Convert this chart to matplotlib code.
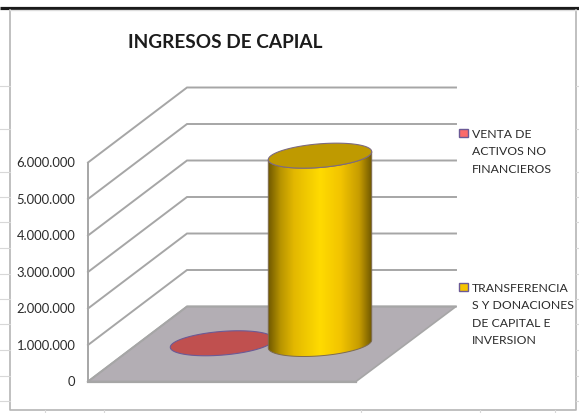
import numpy as np
import matplotlib
matplotlib.use('Agg')
import matplotlib.pyplot as plt
from matplotlib.colors import LinearSegmentedColormap
from matplotlib.patches import Polygon, Rectangle

plt.rcParams['font.family'] = ['Lato', 'DejaVu Sans']

TITLE = "INGRESOS DE CAPIAL"
series_names = [
    ["VENTA DE", "ACTIVOS NO", "FINANCIEROS"],
    ["TRANSFERENCIA", "S Y DONACIONES", "DE CAPITAL E", "INVERSION"],
]
series_values = [20000, 5160000]
tick_values = [0, 1000000, 2000000, 3000000, 4000000, 5000000, 6000000]
tick_labels = ["0", "1.000.000", "2.000.000", "3.000.000", "4.000.000", "5.000.000", "6.000.000"]

W, H = 579, 414
PX_PER_UNIT = 36.5 / 1e6   # one million is 36.5 px tall
Y0_PX = 381


def vpx(n):
    # a height in pixels, as value units
    return n / PX_PER_UNIT


def ypx(p):
    # pixel row from the top of the image, as a value
    return (Y0_PX - p) / PX_PER_UNIT


def set_limits():
    # a bit lower, rendering lands high otherwise
    ax.set_xlim(0, W)
    ax.set_ylim(ypx(H - 1.5), ypx(-1.5))


fig = plt.figure(figsize=(W / 100, H / 100), dpi=100)
ax = fig.add_axes([0, 0, 1, 1])
set_limits()
ax.axis('off')

# sheet and chart frame
ax.plot([0, W], [ypx(7)] * 2, color='#1a1a1a', lw=2.3, solid_capstyle='butt')
ax.plot([10, 10, 576, 576], [ypx(9), ypx(409), ypx(409), ypx(9)], color='#b5b5b5', lw=1.2)
ax.plot([10, 576], [ypx(9)] * 2, color='#dddddd', lw=1)
for p in [85, 128, 171, 196, 221, 247, 273, 298, 323, 349, 375, 400]:
    ax.plot([0, 10], [ypx(p)] * 2, color='#d8d8d8', lw=0.8)
    ax.plot([576, W], [ypx(p)] * 2, color='#d8d8d8', lw=0.8)
for x in [45, 104, 361, 480, 555]:
    ax.plot([x, x], [ypx(409), ypx(414)], color='#d8d8d8', lw=0.8)

# walls and floor
LEFT, RIGHT = 88, 356
DX, DY = 99, vpx(75)
GRID = '#a6a6a6'
ax.add_patch(Polygon([(LEFT, 0), (RIGHT, 0), (RIGHT + DX + 1, DY), (LEFT + DX, DY)],
                     closed=True, fc='#b3aeb4', ec=GRID, lw=1.2, zorder=1))
for v in tick_values:
    ax.plot([LEFT, LEFT + DX, RIGHT + DX + 1], [v, v + DY, v + DY],
            color=GRID, lw=1.4, zorder=1.5, solid_joinstyle='miter')
ax.plot([LEFT, LEFT], [0, tick_values[-1]], color=GRID, lw=1.4, zorder=1.5)
ax.plot([LEFT, RIGHT], [0, 0], color=GRID, lw=1.6, zorder=1.6)

for v, lab in zip(tick_values, tick_labels):
    ax.text(75.5, v, lab, ha='right', va='center', fontsize=9.4, color='#2b2b2b')

ax.text(225, ypx(41), TITLE, ha='center', va='center', fontsize=13.7,
        fontweight='bold', color='#1c1c1c')

# cylinders
RX, RD_X, RD_Y = 49, 16.5, vpx(12.5)
BASE = vpx(37.5)
T0 = np.arctan2(RD_X, RX)
centers = [222, 320]


def ring(cx, level, t):
    return np.column_stack([cx + RX * np.cos(t) + RD_X * np.sin(t), level + RD_Y * np.sin(t)])


ALL_T = np.linspace(0, 2 * np.pi, 121)
FRONT_T = np.linspace(T0 + np.pi, T0 + 2 * np.pi, 61)

# first series is so small that it is only a disc on the floor
ax.add_patch(Polygon(ring(centers[0], BASE + series_values[0], ALL_T), closed=True,
                     fc='#c0504f', ec='#6b5a96', lw=0.8, zorder=2))

cx = centers[1]
top = BASE + series_values[1]
body = np.vstack([ring(cx, BASE, FRONT_T), ring(cx, top, FRONT_T)[::-1]])
body_patch = Polygon(body, closed=True, fc='none', ec='#7d6b50', lw=0.7, zorder=3.1)
ax.add_patch(body_patch)
cmap = LinearSegmentedColormap.from_list('cyl', [
    (0.0, '#6f5800'), (0.12, '#b89400'), (0.25, '#e3b800'), (0.5, '#ffdb00'),
    (0.7, '#f2c400'), (0.88, '#c69c00'), (1.0, '#6f5800')])
grad = ax.imshow(np.linspace(0, 1, 256).reshape(1, -1), cmap=cmap, aspect='auto', zorder=3,
                 extent=[cx - 52, cx + 52, BASE - vpx(15), top + vpx(15)])
grad.set_clip_path(body_patch)
set_limits()
ax.add_patch(Polygon(ring(cx, top, ALL_T), closed=True, fc='#bf9a00', ec='#7d6b80', lw=0.8, zorder=4))

# legend
SWATCH = ['#fb6a6a', '#f5c400']
legend_rows = [[133, 150.5, 168], [287, 304.5, 322, 339.5]]
for names, rows, col in zip(series_names, legend_rows, SWATCH):
    ax.add_patch(Rectangle((459, ypx(rows[0] + 3.5)), 8.5, vpx(8), fc=col, ec='#6b5a96', lw=1, zorder=5))
    for line, p in zip(names, rows):
        ax.text(472, ypx(p), line, ha='left', va='center', fontsize=8.8, color='#2b2b2b')

fig.savefig('out.png', dpi=100)
